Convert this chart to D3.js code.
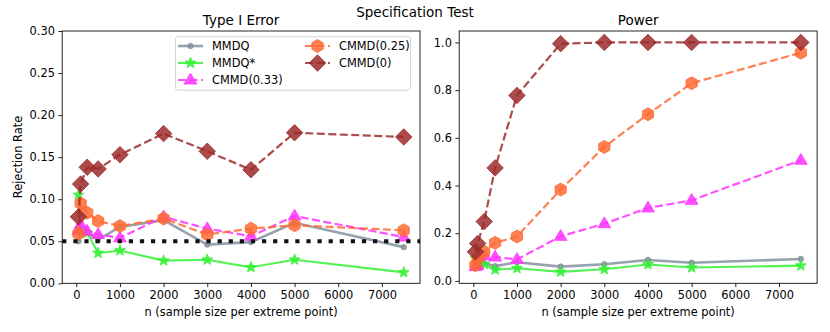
<!DOCTYPE html>
<html><head><meta charset="utf-8">
<script src="https://cdn.jsdelivr.net/npm/d3@7"></script>
<style>body{margin:0;background:#fff}svg{display:block;font-family:"DejaVu Sans",sans-serif}</style>
</head><body>
<script>
const nValues = [50,100,250,500,1000,2000,3000,4000,5000,7500];
const seriesNames = ["MMDQ","MMDQ*","CMMD(0.33)","CMMD(0.25)","CMMD(0)"];
// Type I Error
const t1_MMDQ   = [0.050,0.062,0.060,0.052,0.067,0.075,0.046,0.049,0.072,0.043];
const t1_MMDQs  = [0.105,0.065,0.060,0.036,0.039,0.027,0.028,0.019,0.028,0.013];
const t1_C033   = [0.063,0.070,0.062,0.058,0.054,0.079,0.065,0.056,0.080,0.055];
const t1_C025   = [0.059,0.095,0.084,0.074,0.068,0.077,0.058,0.065,0.069,0.063];
const t1_C0     = [0.079,0.118,0.138,0.136,0.153,0.178,0.157,0.135,0.179,0.174];
// Power
const pw_MMDQ   = [0.100,0.085,0.075,0.062,0.078,0.060,0.070,0.088,0.076,0.092];
const pw_MMDQs  = [0.095,0.085,0.070,0.047,0.053,0.038,0.049,0.069,0.056,0.064];
const pw_C033   = [0.060,0.065,0.105,0.100,0.090,0.187,0.240,0.306,0.338,0.506];
const pw_C025   = [0.066,0.094,0.122,0.160,0.186,0.383,0.562,0.699,0.829,0.957];
const pw_C0     = [0.122,0.157,0.249,0.474,0.778,0.995,1.000,1.000,1.000,1.000];
const xTicks = [0,1000,2000,3000,4000,5000,6000,7000];
const yTicksL = [0,0.05,0.10,0.15,0.20,0.25,0.30];
const yTicksR = [0,0.2,0.4,0.6,0.8,1.0];
const alphaLevel = 0.05;

const W=830,H=332;
const svg=d3.select("body").append("svg").attr("width",W).attr("height",H);
const FS=11.4;

const styles = [
  {color:"#8592a0", lw:2.6, dash:null, marker:"circle", size:5.5},
  {color:"#33f033", lw:2.1, dash:null, marker:"star", size:11.5},
  {color:"#ff33ff", lw:2.2, dash:"8,3.5", marker:"triangle", size:13.5},
  {color:"#ff6a33", lw:2.2, dash:"8,3.5", marker:"hexagon", size:13},
  {color:"#9c2b2b", lw:2.2, dash:"8,3.5", marker:"diamond", size:16.5}
];

function markerPath(type, s){
  const r=s/2;
  if(type==="circle"){ return d3.symbol(d3.symbolCircle, Math.PI*r*r)(); }
  if(type==="star"){
    const pts=[]; for(let i=0;i<10;i++){const a=-Math.PI/2+i*Math.PI/5; const rr=i%2?r*0.42:r; pts.push([rr*Math.cos(a),rr*Math.sin(a)]);}
    return "M"+pts.map(p=>p.join(",")).join("L")+"Z";
  }
  if(type==="triangle"){
    return `M0,${-r}L${r*0.95},${r*0.6}L${-r*0.95},${r*0.6}Z`;
  }
  if(type==="hexagon"){
    const pts=[]; for(let i=0;i<6;i++){const a=-Math.PI/2+i*Math.PI/3; pts.push([r*Math.cos(a),r*Math.sin(a)]);}
    return "M"+pts.map(p=>p.join(",")).join("L")+"Z";
  }
  if(type==="diamond"){
    return `M0,${-r}L${r},0L0,${r}L${-r},0Z`;
  }
}

function panel(x0,x1,yDomain,yTicks,yFmt,data,title,showRef){
  const top=31,bot=283.3;
  const x=d3.scaleLinear().domain([-322.5,7872.5]).range([x0,x1]);
  const y=d3.scaleLinear().domain(yDomain).range([bot,top]);
  const g=svg.append("g");
  const clipId="c"+Math.round(x0);
  svg.append("clipPath").attr("id",clipId).append("rect").attr("x",x0).attr("y",top).attr("width",x1-x0).attr("height",bot-top);
  const plot=g.append("g").attr("clip-path",`url(#${clipId})`);
  data.forEach((vals,i)=>{
    const st=styles[i];
    const pts=nValues.map((n,j)=>[x(n),y(vals[j])]);
    plot.append("path").attr("d",d3.line()(pts)).attr("fill","none")
      .attr("stroke",st.color).attr("stroke-width",st.lw).attr("stroke-opacity",0.85)
      .attr("stroke-dasharray",st.dash);
    plot.selectAll(null).data(pts).enter().append("path")
      .attr("d",markerPath(st.marker,st.size))
      .attr("transform",d=>`translate(${d[0]},${d[1]})`)
      .attr("fill",st.color).attr("fill-opacity",0.85)
      .attr("stroke",st.color).attr("stroke-width",0.8);
  });
  if(showRef){
    plot.append("line").attr("x1",x0).attr("x2",x1).attr("y1",y(alphaLevel)).attr("y2",y(alphaLevel))
      .attr("stroke","#111").attr("stroke-width",4.2).attr("stroke-dasharray","4.2,6.9");
  }
  const xa=g.append("g").attr("transform",`translate(0,${bot})`)
    .call(d3.axisBottom(x).tickValues(xTicks).tickFormat(d3.format("d")).tickSize(3.8).tickPadding(3.5));
  const ya=g.append("g").attr("transform",`translate(${x0},0)`)
    .call(d3.axisLeft(y).tickValues(yTicks).tickFormat(yFmt).tickSize(3.8).tickPadding(3.5));
  [xa,ya].forEach(a=>{a.select(".domain").remove();a.selectAll("text").attr("font-size",FS).attr("fill","#000").attr("font-family","DejaVu Sans");a.selectAll("line").attr("stroke","#000").attr("stroke-width",0.85);});
  g.append("rect").attr("x",x0).attr("y",top).attr("width",x1-x0).attr("height",bot-top)
    .attr("fill","none").attr("stroke","#000").attr("stroke-width",0.85);
  g.append("text").attr("x",(x0+x1)/2).attr("y",24.5).attr("text-anchor","middle").attr("font-size",13.5).text(title);
  g.append("text").attr("x",(x0+x1)/2).attr("y",316).attr("text-anchor","middle").attr("font-size",FS).text("n (sample size per extreme point)");
  return {x,y};
}

panel(62.2,420,[0,0.3],yTicksL,d3.format(".2f"),[t1_MMDQ,t1_MMDQs,t1_C033,t1_C025,t1_C0],"Type I Error",true);
panel(459.2,817.1,[-0.010,1.048],yTicksR,d3.format(".1f"),[pw_MMDQ,pw_MMDQs,pw_C033,pw_C025,pw_C0],"Power",false);

svg.append("text").attr("x",415).attr("y",17).attr("text-anchor","middle").attr("font-size",13.5).text("Specification Test");
svg.append("text").attr("transform","translate(22,157) rotate(-90)").attr("text-anchor","middle").attr("font-size",FS).text("Rejection Rate");

const lg=svg.append("g");
lg.append("rect").attr("x",175.5).attr("y",36.7).attr("width",235).attr("height",53.5).attr("rx",2.5)
  .attr("fill","#fff").attr("fill-opacity",0.8).attr("stroke","#d0d0d0").attr("stroke-width",0.9);
const legPos=[[178,46],[178,63],[178,80],[305,46],[305,63]];
seriesNames.forEach((name,i)=>{
  const st=styles[i]; const [lx,ly]=legPos[i];
  lg.append("line").attr("x1",lx).attr("x2",lx+25).attr("y1",ly).attr("y2",ly)
    .attr("stroke",st.color).attr("stroke-width",st.lw).attr("stroke-opacity",0.85).attr("stroke-dasharray",st.dash);
  lg.append("path").attr("d",markerPath(st.marker,st.size)).attr("transform",`translate(${lx+12.5},${ly})`)
    .attr("fill",st.color).attr("fill-opacity",0.85).attr("stroke",st.color).attr("stroke-width",0.8);
  lg.append("text").attr("x",lx+34).attr("y",ly+4).attr("font-size",FS).text(name);
});
</script>
</body></html>
